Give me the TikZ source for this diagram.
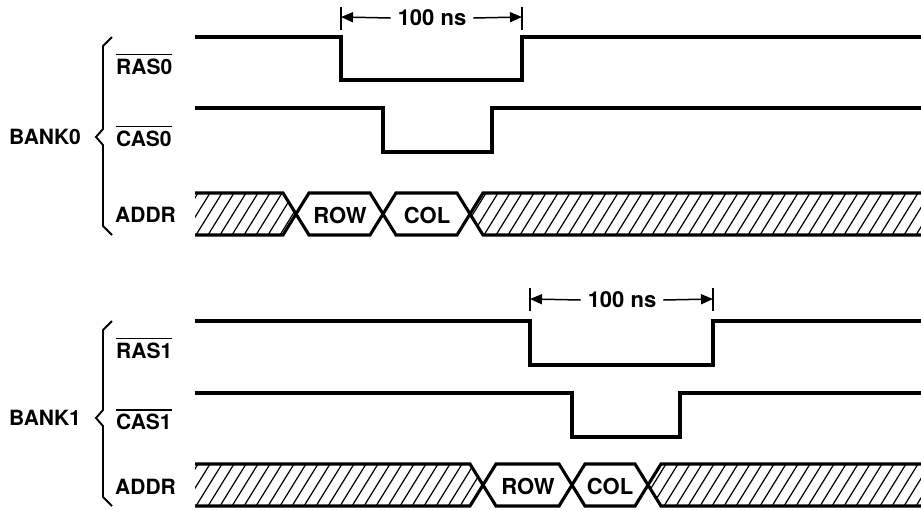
\documentclass[tikz,border=0pt]{standalone}
\usepackage{fontspec}
\setmainfont{TeX Gyre Heros}
\usetikzlibrary{arrows.meta}
\newcommand\ovlbar[1]{\setbox0\hbox{#1}\rlap{\raisebox{\dimexpr\ht0+3pt\relax}{\rule{\wd0}{1.8pt}}}\box0}
\begin{document}
\begin{tikzpicture}[x=1pt,y=-1pt,
  sig/.style={line width=3.1pt, line join=miter},
  hatchline/.style={line width=1.2pt},
  brace/.style={line width=1.9pt, line join=miter},
  lbl/.style={font=\fontsize{21}{24}\selectfont\bfseries, inner sep=0pt, anchor=west},
  dimtxt/.style={font=\fontsize{22}{25}\selectfont\bfseries, inner sep=0pt},
  dimbar/.style={line width=1.7pt},
  dimarrow/.style={line width=1.5pt, -{Triangle[length=12pt,width=10pt]}}]
\useasboundingbox (0,0) rectangle (921,509);

% ================= BANK 0 =================
\node[lbl] (bank0) at (9,137) {BANK0};
\draw[brace] (112,37) -- (103,46) -- (103,129) -- (96,137) -- (103,145) -- (103,226) -- (112,235);
\node[lbl] (ras0l) at (116,64) {\ovlbar{RAS0}};
\node[lbl] (cas0l) at (116,136) {\ovlbar{CAS0}};
\node[lbl] (addr0l) at (115,215) {ADDR};

\draw[sig] (195,37) -- (341,37) -- (341,80) -- (522,80) -- (522,37) -- (921,37);
\draw[sig] (195,108) -- (383,108) -- (383,152) -- (492,152) -- (492,108) -- (921,108);

% 100 ns (top)
\coordinate (b0l) at (341,17);
\coordinate (b0r) at (522,17);
\draw[dimbar] (341,7) -- (341,30);
\draw[dimbar] (522,7) -- (522,30);
\node[dimtxt] (ns0) at (432,18) {100 ns};
\draw[dimarrow] ([xshift=-7pt]ns0.west) -- (b0l);
\draw[dimarrow] ([xshift=7pt]ns0.east) -- (b0r);

% ADDR hatching (top)
\begin{scope}
  \clip (195,193) -- (283,193) -- (296,214) -- (283,235) -- (195,235) -- cycle
        (921,193) -- (483,193) -- (470,214) -- (483,235) -- (921,235) -- cycle;
  \foreach \x in {160,172,...,940} \draw[hatchline] (\x,235) -- (\x+26,193);
\end{scope}
\draw[sig] (195,193) -- (283,193) -- (309,235) -- (370,235) -- (396,193) -- (457,193) -- (483,235) -- (921,235);
\draw[sig] (195,235) -- (283,235) -- (309,193) -- (370,193) -- (396,235) -- (457,235) -- (483,193) -- (921,193);
\node[dimtxt] (row0) at (340,215) {ROW};
\node[dimtxt] (col0) at (427,215) {COL};

% ================= BANK 1 =================
\node[lbl] (bank1) at (9,418) {BANK1};
\draw[brace] (112,321) -- (103,330) -- (103,410) -- (96,418) -- (103,426) -- (103,497) -- (112,506);
\node[lbl] (ras1l) at (116,348) {\ovlbar{RAS1}};
\node[lbl] (cas1l) at (116,419) {\ovlbar{CAS1}};
\node[lbl] (addr1l) at (115,487) {ADDR};

\draw[sig] (195,321) -- (530,321) -- (530,365) -- (713,365) -- (713,321) -- (921,321);
\draw[sig] (195,393) -- (572,393) -- (572,437) -- (680,437) -- (680,393) -- (921,393);

% 100 ns (bottom)
\coordinate (b1l) at (530,299);
\coordinate (b1r) at (713,299);
\draw[dimbar] (530,288) -- (530,311);
\draw[dimbar] (713,288) -- (713,311);
\node[dimtxt] (ns1) at (622,300) {100 ns};
\draw[dimarrow] ([xshift=-7pt]ns1.west) -- (b1l);
\draw[dimarrow] ([xshift=7pt]ns1.east) -- (b1r);

% ADDR hatching (bottom)
\begin{scope}
  \clip (195,464) -- (470,464) -- (483,485) -- (470,506) -- (195,506) -- cycle
        (921,464) -- (661,464) -- (648,485) -- (661,506) -- (921,506) -- cycle;
  \foreach \x in {160,172,...,940} \draw[hatchline] (\x,506) -- (\x+26,464);
\end{scope}
\draw[sig] (195,464) -- (470,464) -- (496,506) -- (559,506) -- (585,464) -- (635,464) -- (661,506) -- (921,506);
\draw[sig] (195,506) -- (470,506) -- (496,464) -- (559,464) -- (585,506) -- (635,506) -- (661,464) -- (921,464);
\node[dimtxt] (row1) at (528,486) {ROW};
\node[dimtxt] (col1) at (610,486) {COL};
\end{tikzpicture}
\end{document}
